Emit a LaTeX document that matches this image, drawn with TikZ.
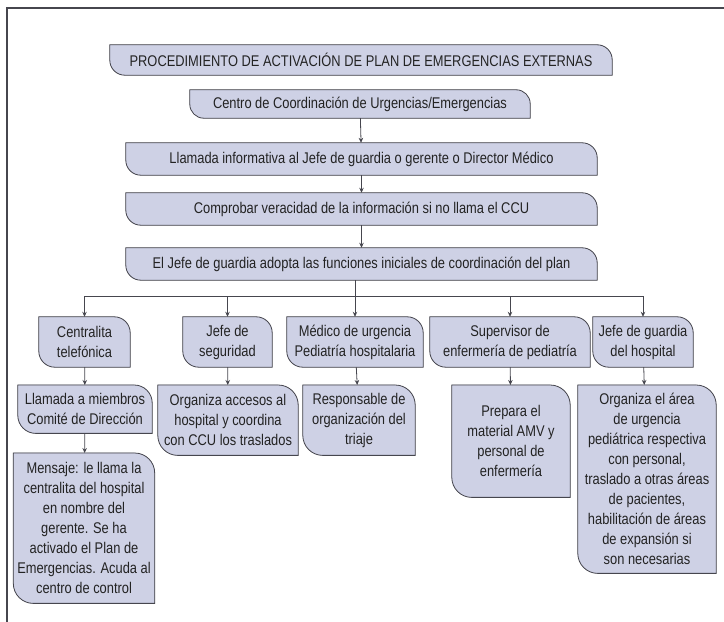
\documentclass[tikz,border=0pt]{standalone}
\usepackage{fontspec}
\setmainfont[FakeStretch=0.83]{Liberation Sans}
\usetikzlibrary{arrows.meta,backgrounds}
\definecolor{boxfill}{RGB}{206,209,229}
\definecolor{boxline}{RGB}{70,70,78}
\definecolor{txt}{RGB}{35,35,35}

\begin{document}
\begin{tikzpicture}[x=1pt,y=1pt,
    box/.style={inner sep=2pt,align=center,text=txt,font=\fontsize{15.5}{20}\selectfont},
    link/.style={draw=boxline,line width=0.8pt,-{Stealth[length=5pt,width=4.5pt]}},
    boxshape/.style={fill=boxfill,draw=boxline,line width=0.8pt}]
\useasboundingbox (0,0) rectangle (724,622);
\draw[boxline,line width=1.3pt] (7,0) -- (7,614) -- (724,614);

% main column
\node[box,minimum width=502,minimum height=30] (title) at (361,562) {PROCEDIMIENTO DE ACTIVACIÓN DE PLAN DE EMERGENCIAS EXTERNAS};
\node[box,minimum width=340,minimum height=28] (ccu) at (360,518) {Centro de Coordinación de Urgencias/Emergencias};
\node[box,minimum width=471,minimum height=32] (aviso) at (361.5,463) {Llamada informativa al Jefe de guardia o gerente o Director Médico};
\node[box,minimum width=471,minimum height=32] (verif) at (361.5,413) {Comprobar veracidad de la información si no llama el CCU};
\node[box,minimum width=471,minimum height=32] (adopta) at (361.5,358) {El Jefe de guardia adopta las funciones iniciales de coordinación del plan};

% responsables
\node[box,minimum width=91,minimum height=50] (central) at (84.5,280) {Centralita\\telefónica};
\node[box,minimum width=89,minimum height=50] (segur) at (227.5,280) {Jefe de\\seguridad};
\node[box,minimum width=136,minimum height=50] (medico) at (355,280) {Médico de urgencia\\Pediatría hospitalaria};
\node[box,minimum width=160,minimum height=50] (superv) at (510,280) {Supervisor de\\enfermería de pediatría};
\node[box,minimum width=100,minimum height=50] (guardia) at (643,280) {Jefe de guardia\\del hospital};

% tareas
\node[box,anchor=north,minimum width=134,minimum height=48] (comite) at (85,237) {Llamada a miembros\\Comité de Dirección};
\node[box,anchor=north,minimum width=140,minimum height=70] (accesos) at (228,237) {Organiza accesos al\\hospital y coordina\\con CCU los traslados};
\node[box,anchor=north,minimum width=112,minimum height=70] (triaje) at (359,237) {Responsable de\\organización del\\triaje};
\node[box,anchor=north,minimum width=118,minimum height=112] (material) at (511,237) {Prepara el\\material AMV y\\personal de\\enfermería};
\node[box,anchor=north,minimum width=138,minimum height=188] (area) at (647,237) {Organiza el área\\de urgencia\\pediátrica respectiva\\con personal,\\traslado a otras áreas\\de pacientes,\\habilitación de áreas\\de expansión si\\son necesarias};
\node[box,anchor=north,minimum width=141,minimum height=150] (mensaje) at (84,169) {Mensaje: le llama la\\centralita del hospital\\en nombre del\\gerente. Se ha\\activado el Plan de\\Emergencias. Acuda al\\centro de control};

% box outlines behind the text
\begin{scope}[on background layer]
\foreach \n/\r in {title/15,ccu/14,aviso/15,verif/15,adopta/15,central/16,segur/16,medico/16,superv/16,guardia/16,comite/18,accesos/20,triaje/20,material/20,area/20,mensaje/20}{
  \fill[boxline,xshift=0.8pt,yshift=-0.8pt] (\n.north west) -- ([xshift=-\r pt]\n.north east) arc[start angle=90,end angle=0,radius=\r pt] -- (\n.south east) -- ([xshift=\r pt]\n.south west) arc[start angle=270,end angle=180,radius=\r pt] -- cycle;
  \draw[boxshape] (\n.north west) -- ([xshift=-\r pt]\n.north east) arc[start angle=90,end angle=0,radius=\r pt] -- (\n.south east) -- ([xshift=\r pt]\n.south west) arc[start angle=270,end angle=180,radius=\r pt] -- cycle;
}
\end{scope}

% connectors
\coordinate (fork) at (355,326);
\draw[link] (ccu) -- (aviso);
\draw[link] (aviso) -- (verif);
\draw[link] (verif) -- (adopta);
\draw[boxline,line width=0.8pt] (adopta.south -| fork) -- (fork);
\foreach \n in {central,segur,medico,superv,guardia}
  \draw[link] (fork) -| (\n.north);
\draw[link] (central) -- (comite);
\draw[link] (segur) -- (accesos);
\draw[link] (medico) -- (triaje);
\draw[link] (superv) -- (material);
\draw[link] (guardia) -- (area);
\draw[link] (comite) -- (mensaje);
\end{tikzpicture}
\end{document}
